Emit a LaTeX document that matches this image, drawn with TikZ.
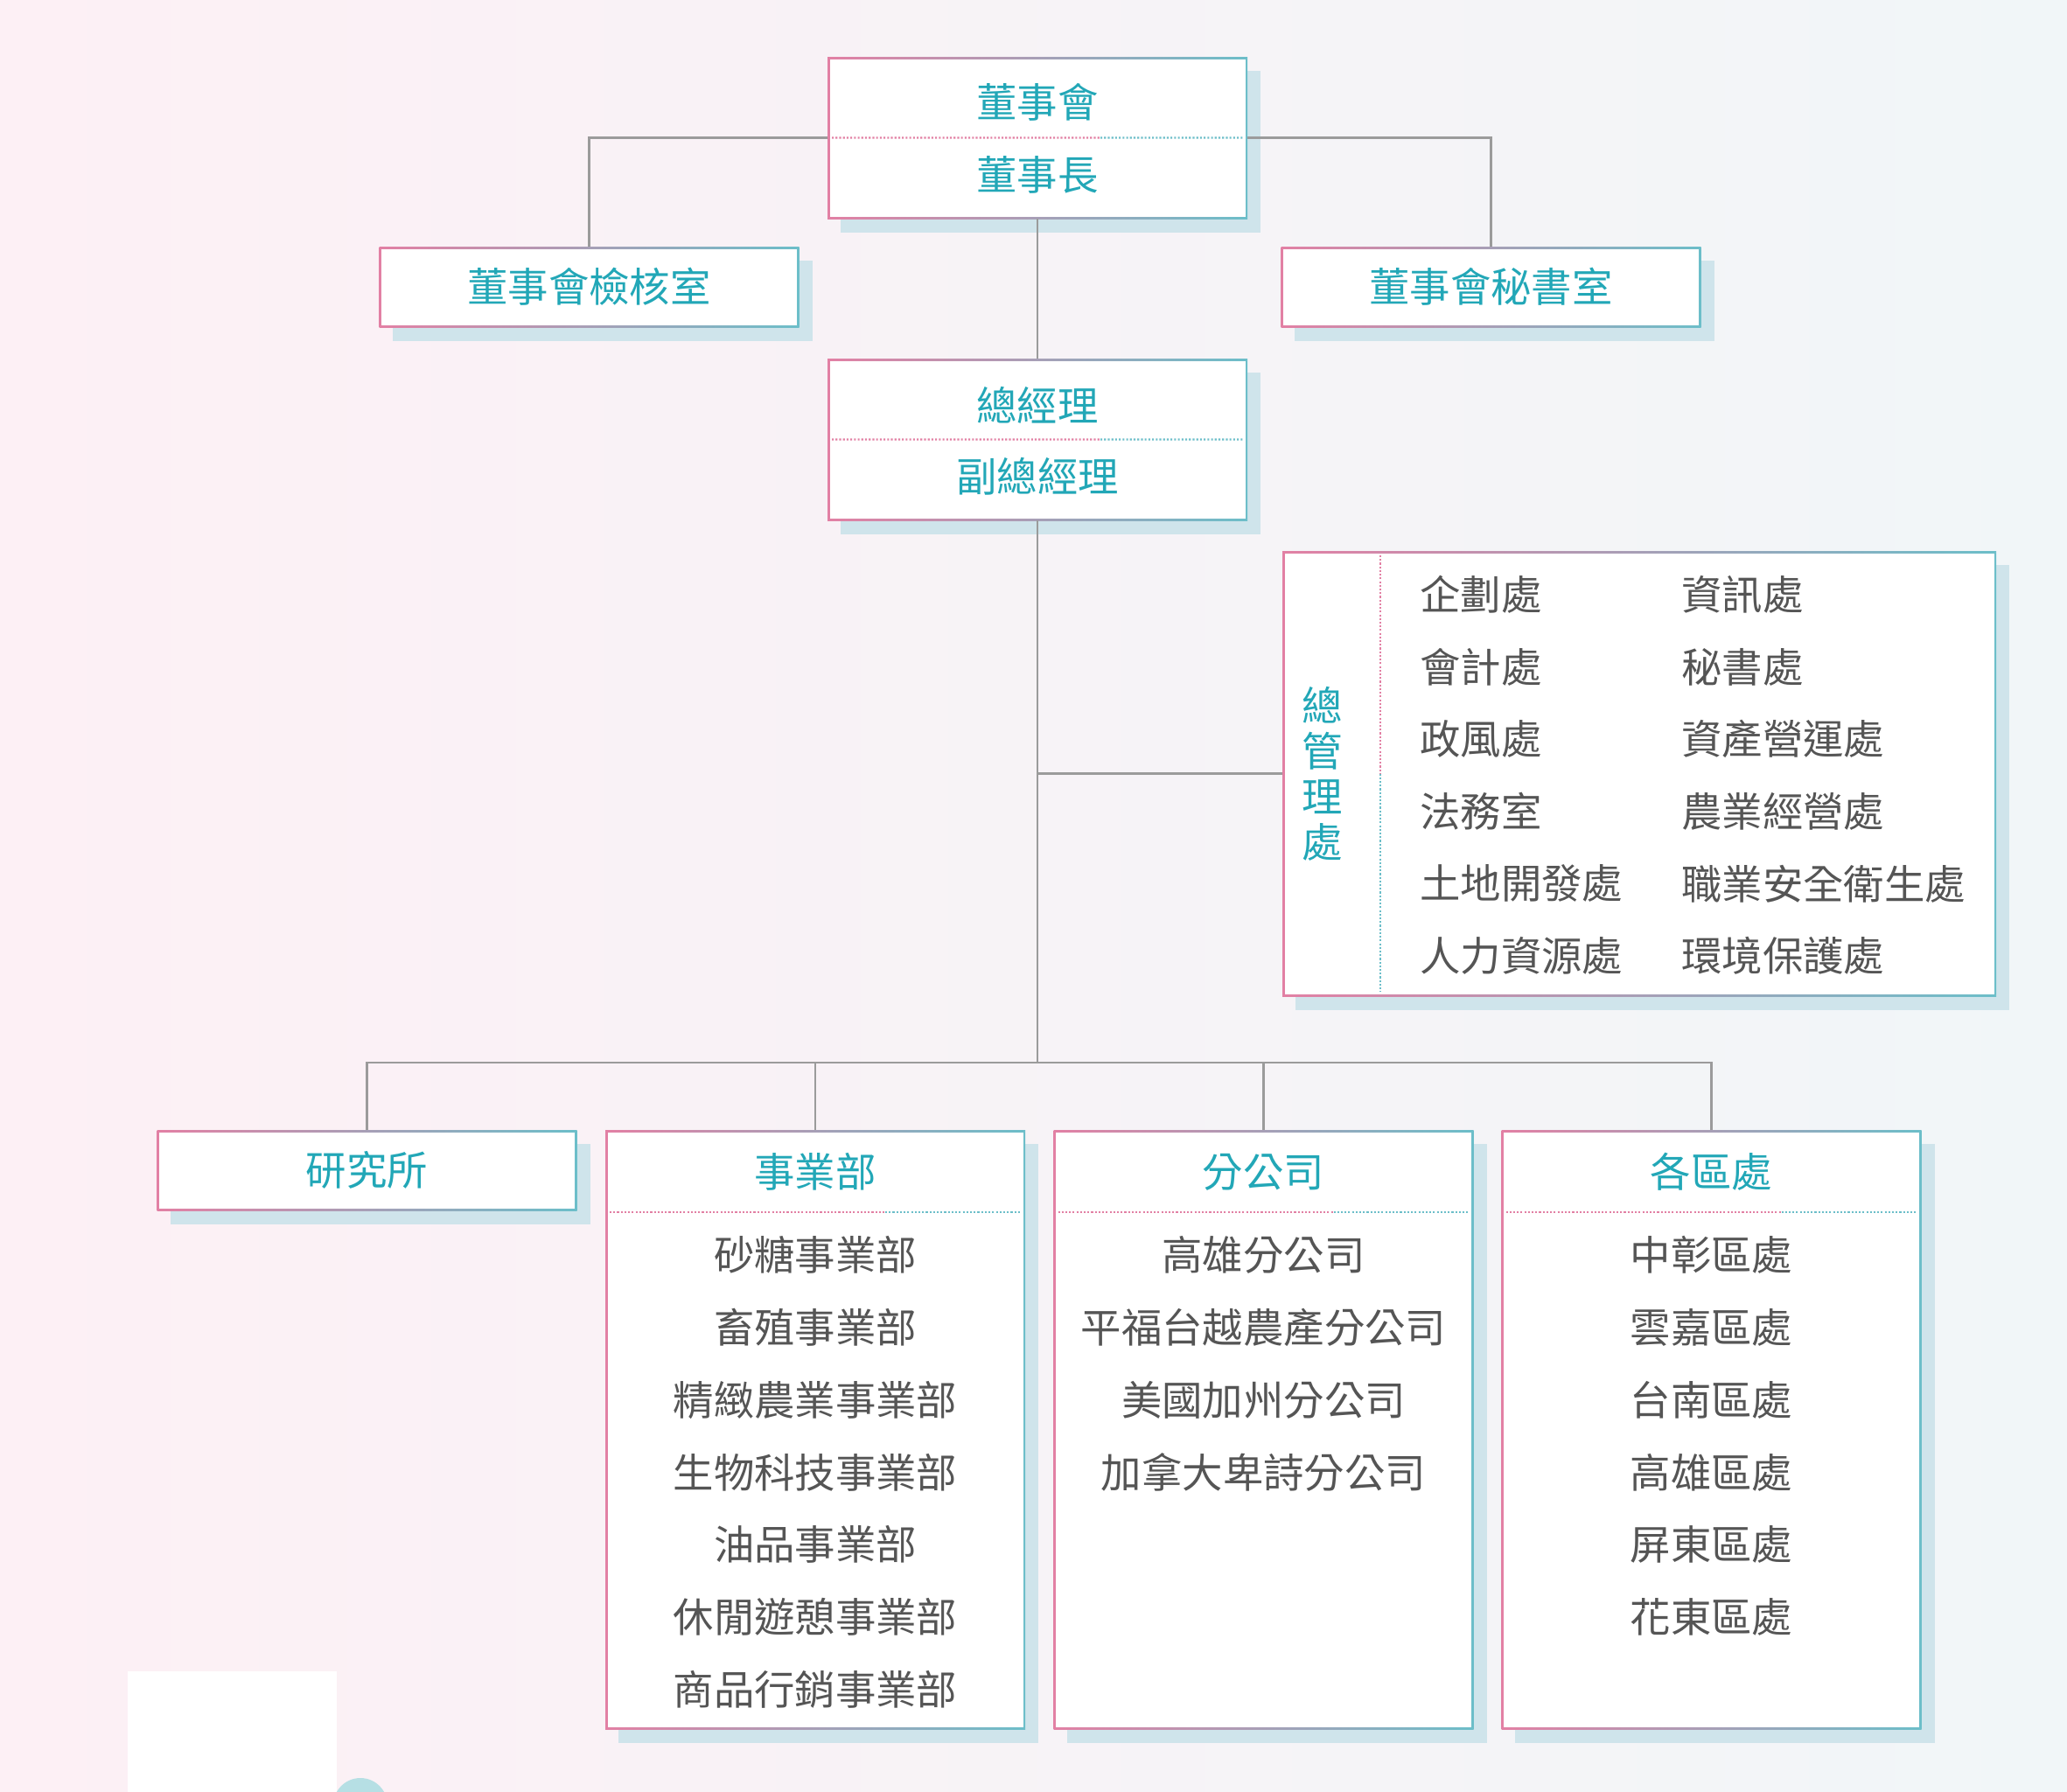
\documentclass[tikz,border=0pt]{standalone}
\usepackage{fontspec}
\newfontfamily\cjk{Noto Sans CJK TC}
\usepackage{tikz}
\usetikzlibrary{positioning,calc,shadows}
\definecolor{pinkline}{RGB}{226,128,164}
\definecolor{tealline}{RGB}{108,190,201}
\definecolor{tealtext}{RGB}{34,167,183}
\definecolor{greytext}{RGB}{85,85,85}
\definecolor{shadowblue}{RGB}{207,228,235}
\definecolor{linkgrey}{RGB}{155,155,155}
\definecolor{bgpink}{RGB}{253,240,245}
\definecolor{bgblue}{RGB}{241,246,248}

\begin{document}
\begin{tikzpicture}[
    orgbox/.style={rectangle,minimum width=4.8cm,inner sep=0pt,outer sep=0pt,
      left color=pinkline,right color=tealline,
      drop shadow={shadow xshift=0.15cm,shadow yshift=-0.16cm,fill=shadowblue,opacity=1},
      path picture={\fill[white] ([shift={(0.025,0.025)}]path picture bounding box.south west)
        rectangle ([shift={(-0.025,-0.025)}]path picture bounding box.north east);}},
    headtext/.style={font=\cjk\fontsize{13.2}{14.8}\selectfont,text=tealtext,inner sep=1pt},
    listtext/.style={font=\cjk\fontsize{13.2}{14.8}\selectfont,text=greytext,inner sep=1pt},
    link/.style={linkgrey,line width=0.7pt},
    divpink/.style={pinkline,line width=0.6pt,dash pattern=on 0.6pt off 0.6pt},
    divteal/.style={tealline,line width=0.6pt,dash pattern=on 0.6pt off 0.6pt}]

    % Background
    \useasboundingbox (0,0) rectangle (23.63,-20.48);
    \shade[left color=bgpink,right color=bgblue] (0,0) rectangle (23.63,-20.48);
    \begin{scope}
        \clip (0,0) rectangle (23.63,-20.48);
        \fill[white] (1.46,-19.11) rectangle (3.85,-20.6);
        \fill[tealline!50] (4.12,-20.64) circle (0.31);
    \end{scope}

    % Board
    \node[orgbox,minimum height=1.85cm] (board) at (11.86,-1.575) {};
    \node[headtext] (board-1) at (11.86,-1.17) {董事會};
    \node[headtext] (board-2) at (11.86,-2.00) {董事長};
    \draw[divpink] ([xshift=0.05cm]board.west) -- ($(board.west)!0.65!(board.east)$);
    \draw[divteal] ($(board.west)!0.65!(board.east)$) -- ([xshift=-0.05cm]board.east);

    \node[orgbox,headtext,minimum height=0.92cm] (audit) at (6.735,-3.28) {董事會檢核室};
    \node[orgbox,headtext,minimum height=0.92cm] (secretary) at (17.045,-3.28) {董事會秘書室};

    % General manager
    \node[orgbox,minimum height=1.85cm] (gm) at (11.86,-5.025) {};
    \node[headtext] (gm-1) at (11.86,-4.63) {總經理};
    \node[headtext] (gm-2) at (11.86,-5.45) {副總經理};
    \draw[divpink] ([xshift=0.05cm]gm.west) -- ($(gm.west)!0.65!(gm.east)$);
    \draw[divteal] ($(gm.west)!0.65!(gm.east)$) -- ([xshift=-0.05cm]gm.east);

    % Administration
    \node[orgbox,minimum width=8.16cm,minimum height=5.09cm] (admin) at (18.74,-8.845) {};
    \node[headtext,align=center] (admin-head) at (15.12,-8.845) {總\\管\\理\\處};
    \draw[divpink] ([yshift=-0.05cm]admin.north -| 15.78,0) -- (15.78,-8.845);
    \draw[divteal] (15.78,-8.845) -- ([yshift=0.05cm]admin.south -| 15.78,0);
    \foreach \name [count=\i] in {企劃處,會計處,政風處,法務室,土地開發處,人力資源處} {
        \node[listtext,anchor=west] (admin-l\i) at (16.19,-6.80-0.826*\i+0.826) {\name};
    }
    \foreach \name [count=\i] in {資訊處,秘書處,資產營運處,農業經營處,職業安全衛生處,環境保護處} {
        \node[listtext,anchor=west] (admin-r\i) at (19.18,-6.80-0.826*\i+0.826) {\name};
    }

    % Lower units
    \node[orgbox,headtext,minimum height=0.92cm] (research) at (4.195,-13.38) {研究所};
    \foreach \unit/\x/\title in {business/9.32/事業部,branch/14.445/分公司,region/19.565/各區處} {
        \node[orgbox,minimum height=6.85cm] (\unit) at (\x,-16.345) {};
        \node[headtext] (\unit-head) at (\x,-13.40) {\title};
        \draw[divpink] (\x-2.35,-13.86) -- (\x+0.8,-13.86);
        \draw[divteal] (\x+0.8,-13.86) -- (\x+2.35,-13.86);
    }
    \foreach \name [count=\i] in {砂糖事業部,畜殖事業部,精緻農業事業部,生物科技事業部,油品事業部,休閒遊憩事業部,商品行銷事業部} {
        \node[listtext] (business-\i) at (9.32,-14.35-0.828*\i+0.828) {\name};
    }
    \foreach \name [count=\i] in {高雄分公司,平福台越農產分公司,美國加州分公司,加拿大卑詩分公司} {
        \node[listtext] (branch-\i) at (14.445,-14.35-0.828*\i+0.828) {\name};
    }
    \foreach \name [count=\i] in {中彰區處,雲嘉區處,台南區處,高雄區處,屏東區處,花東區處} {
        \node[listtext] (region-\i) at (19.565,-14.35-0.828*\i+0.828) {\name};
    }

    % Connections
    \coordinate (hub) at (11.86,-12.15);
    \draw[link] (board.west) -| (audit.north);
    \draw[link] (board.east) -| (secretary.north);
    \draw[link] (board.south) -- (gm.north);
    \draw[link] (gm.south) -- (hub);
    \draw[link] (gm.south |- admin.west) -- (admin.west);
    \draw[link] (research.north) |- (hub) -| (region.north);
    \foreach \unit in {business,branch} {
        \draw[link] (hub -| \unit.north) -- (\unit.north);
    }
\end{tikzpicture}
\end{document}
